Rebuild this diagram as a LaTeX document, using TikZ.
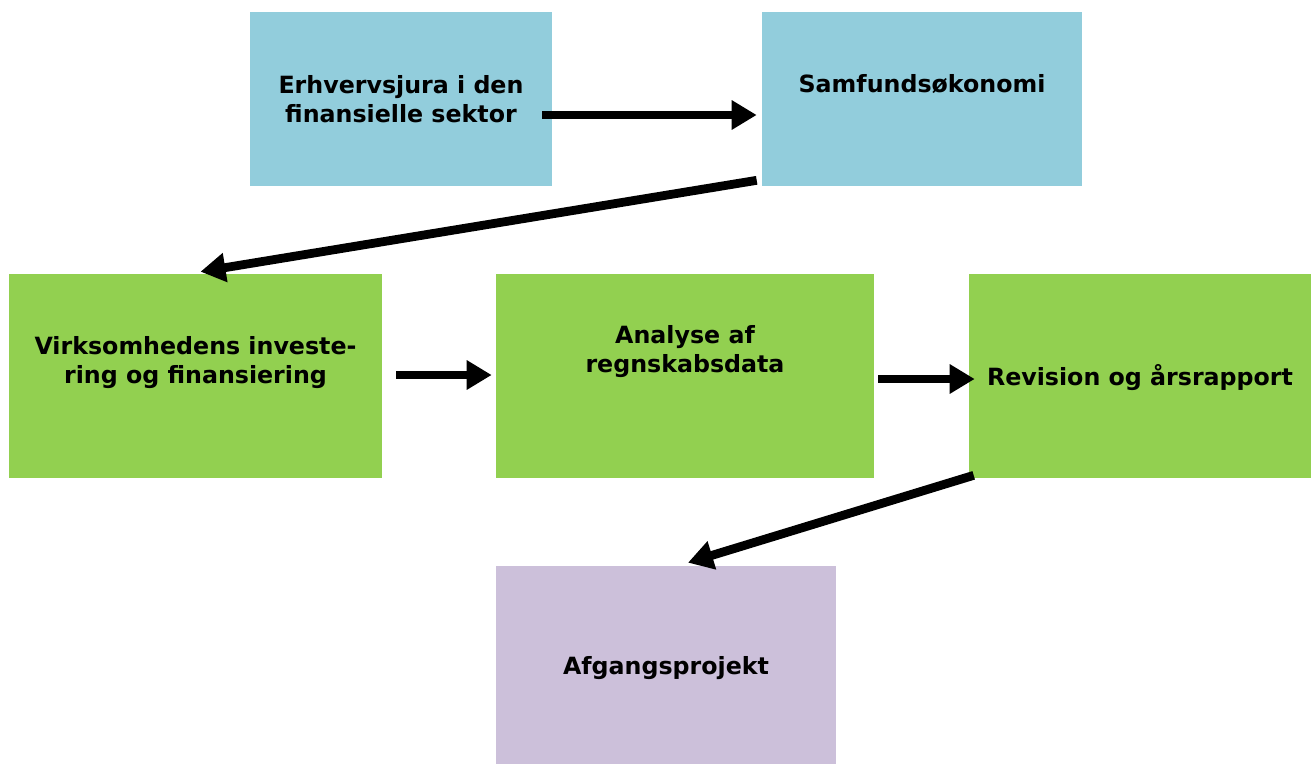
\documentclass[tikz,border=0pt]{standalone}
\usepackage{fontspec}
\setmainfont{DejaVu Sans}
\usepackage{tikz}
\usetikzlibrary{calc}
\usetikzlibrary{arrows.meta}
\definecolor{blaa}{HTML}{92CDDC}
\definecolor{groen}{HTML}{92D050}
\definecolor{lilla}{HTML}{CCC0DA}
\tikzset{
  box/.style={inner sep=0pt,draw=none},
  txt/.style={font=\fontsize{13.5}{16.5}\selectfont\bfseries,align=center,text=black},
  pil/.style={->,line width=5pt,color=black}
}
\begin{document}
\begin{tikzpicture}[line cap=butt,line join=miter,>={Triangle[length=0.5cm,width=0.56cm]},x=0.02cm,y=-0.02cm]
                \useasboundingbox (0,0) rectangle (1311,764);
                % kasser
                \node [box,fill=blaa,minimum width=6.04cm,minimum height=3.48cm,label={[txt]center:Erhvervsjura i den\\finansielle sektor}] (erhverv) at (401,99) {};
                \node [box,fill=blaa,minimum width=6.4cm,minimum height=3.48cm,label={[txt,yshift=0.3cm]center:Samfunds\o konomi}] (samf) at (922,99) {};
                \node [box,fill=groen,minimum width=7.46cm,minimum height=4.08cm,label={[txt,yshift=0.26cm]center:Virksomhedens investe-\\ring og finansiering}] (virk) at (195.5,376) {};
                \node [box,fill=groen,minimum width=7.56cm,minimum height=4.08cm,label={[txt,yshift=0.48cm]center:Analyse af\\regnskabsdata}] (analyse) at (685,376) {};
                \node [box,fill=groen,minimum width=6.84cm,minimum height=4.08cm,label={[txt,yshift=-0.04cm]center:Revision og \aa rsrapport}] (revision) at (1140,376) {};
                \node [box,fill=lilla,minimum width=6.8cm,minimum height=3.96cm,label={[txt,yshift=-0.06cm]center:Afgangsprojekt}] (afgang) at (666,665) {};
                % pile
                \draw [pil] ($(erhverv.east)+(-10,16)$) -- ($(samf.west)+(-5,16)$);
                \draw [pil] ($(samf.south west)+(-5,-6)$) -- ($(virk.north)+(5,-2)$);
                \draw [pil] ($(virk.east)+(14,-1)$) -- ($(analyse.west)+(-4,-1)$);
                \draw [pil] ($(analyse.east)+(4,3)$) -- ($(revision.west)+(6,3)$);
                \draw [pil] ($(revision.south west)+(5,-3)$) -- ($(afgang.north)+(22,-3)$);
            \end{tikzpicture}
\end{document}
